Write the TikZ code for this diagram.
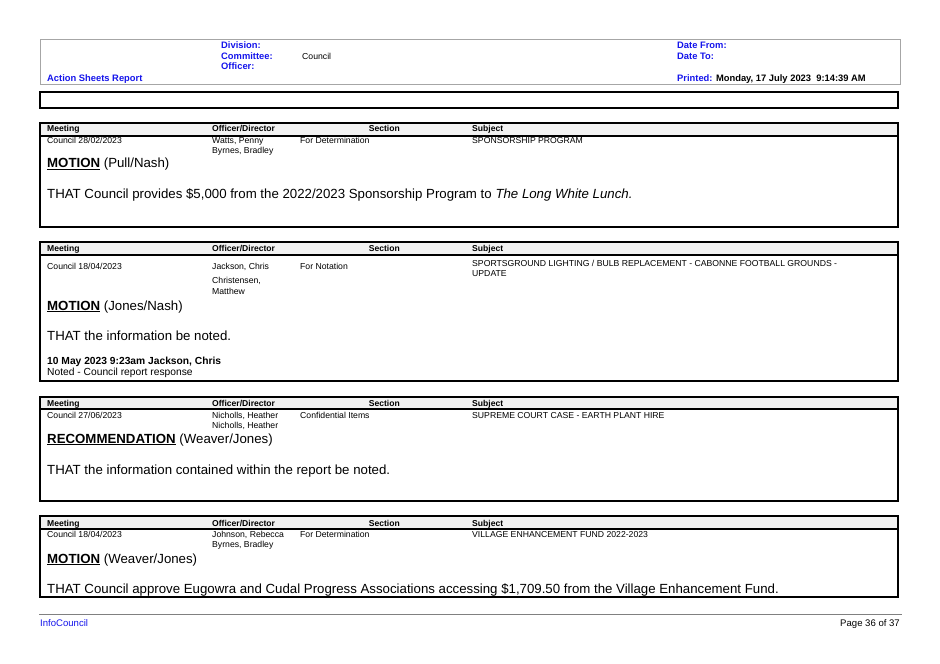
\documentclass[tikz,border=0pt]{standalone}
\usepackage{fontspec}
\setmainfont{Liberation Sans}
\definecolor{hblue}{RGB}{20,20,235}
\definecolor{hgray}{RGB}{242,242,242}
\tikzset{
 t/.style={anchor=base west,inner sep=0pt,font=\fontsize{8.7}{9}\selectfont},
 th/.style={anchor=base west,inner sep=0pt,font=\fontsize{8.6}{9}\selectfont\bfseries},
 tr/.style={anchor=base east,inner sep=0pt,font=\fontsize{8.6}{9}\selectfont\bfseries},
 big/.style={anchor=base west,inner sep=0pt,font=\fontsize{13.3}{14}\selectfont},
 hb/.style={anchor=base west,inner sep=0pt,font=\fontsize{9.4}{10}\selectfont\bfseries,text=hblue},
 blk/.style={draw=black,line width=1.3pt}
}
\newcommand{\blockhead}[3]{%
 \fill[hgray] (40,#1) rectangle (898,#2);
 \draw[line width=1.3pt] (40,#2) -- (898,#2);
 \draw[blk] (40,#1) rectangle (898,#3);
}
\begin{document}
\begin{tikzpicture}[x=1bp,y=-1bp]
\useasboundingbox (0,0) rectangle (940,664);
% page header
\draw[draw=gray!70,line width=0.8pt] (40,39) rectangle (900,84);
\node[hb] (div) at (221,49) {Division:};
\node[hb] (com) at (221,60) {Committee:};
\node[t] (cou) at (302,60) {Council};
\node[hb] (off) at (221,70) {Officer:};
\node[hb] (asr) at (47,82) {Action Sheets Report};
\node[hb] (df) at (677,49) {Date From:};
\node[hb] (dt) at (677,60) {Date To:};
\node[hb] (pr) at (677,82) {Printed: \textcolor{black}{Monday, 17 July 2023\ \ 9:14:39 AM}};
\draw[line width=1.2pt] (40,92) rectangle (898,108);
% block 1
\blockhead{123}{136}{227}
\node[th] (m1) at (47,132) {Meeting};
\node[th] (o1) at (212,132) {Officer/Director};
\node[tr] (s1) at (400,132) {Section};
\node[th] (u1) at (472,132) {Subject};
\node[t] (a1) at (47,144) {Council 28/02/2023};
\node[t] (b1) at (212,144) {Watts, Penny};
\node[t] (b1b) at (212,154) {Byrnes, Bradley};
\node[t] (c1) at (300,144) {For Determination};
\node[t] (d1) at (472,144) {SPONSORSHIP PROGRAM};
\node[big] (e1) at (47,168) {\textbf{\underline{MOTION}} (Pull/Nash)};
\node[big] (f1) at (47,198) {THAT Council provides \$5,000 from the 2022/2023 Sponsorship Program to \textit{The Long White Lunch.}};
% block 2
\blockhead{242}{255}{381}
\node[th] (m2) at (47,251) {Meeting};
\node[th] (o2) at (212,251) {Officer/Director};
\node[tr] (s2) at (400,251) {Section};
\node[th] (u2) at (472,251) {Subject};
\node[t] (a2) at (47,269) {Council 18/04/2023};
\node[t] (b2) at (212,269) {Jackson, Chris};
\node[t] (b2b) at (212,283) {Christensen,};
\node[t] (b2c) at (212,294) {Matthew};
\node[t] (c2) at (300,269) {For Notation};
\node[t] (d2) at (472,266) {SPORTSGROUND LIGHTING / BULB REPLACEMENT - CABONNE FOOTBALL GROUNDS -};
\node[t] (d2b) at (472,276) {UPDATE};
\node[big] (e2) at (47,310) {\textbf{\underline{MOTION}} (Jones/Nash)};
\node[big] (f2) at (47,340) {THAT the information be noted.};
\node[anchor=base west,inner sep=0pt,font=\fontsize{10.3}{11}\selectfont\bfseries] (g2) at (47,364) {10 May 2023 9:23am Jackson, Chris};
\node[anchor=base west,inner sep=0pt,font=\fontsize{10.3}{11}\selectfont] (h2) at (47,375) {Noted - Council report response};
% block 3
\blockhead{397}{409}{501}
\node[th] (m3) at (47,406) {Meeting};
\node[th] (o3) at (212,406) {Officer/Director};
\node[tr] (s3) at (400,406) {Section};
\node[th] (u3) at (472,406) {Subject};
\node[t] (a3) at (47,418) {Council 27/06/2023};
\node[t] (b3) at (212,418) {Nicholls, Heather};
\node[t] (b3b) at (212,428) {Nicholls, Heather};
\node[t] (c3) at (300,418) {Confidential Items};
\node[t] (d3) at (472,418) {SUPREME COURT CASE - EARTH PLANT HIRE};
\node[big] (e3) at (47,443) {\textbf{\underline{RECOMMENDATION}} (Weaver/Jones)};
\node[big] (f3) at (47,474) {THAT the information contained within the report be noted.};
% block 4
\blockhead{516}{529}{597}
\node[th] (m4) at (47,526) {Meeting};
\node[th] (o4) at (212,526) {Officer/Director};
\node[tr] (s4) at (400,526) {Section};
\node[th] (u4) at (472,526) {Subject};
\node[t] (a4) at (47,537) {Council 18/04/2023};
\node[t] (b4) at (212,537) {Johnson, Rebecca};
\node[t] (b4b) at (212,547) {Byrnes, Bradley};
\node[t] (c4) at (300,537) {For Determination};
\node[t] (d4) at (472,537) {VILLAGE ENHANCEMENT FUND 2022-2023};
\node[big] (e4) at (47,563) {\textbf{\underline{MOTION}} (Weaver/Jones)};
\node[big] (f4) at (47,593) {THAT Council approve Eugowra and Cudal Progress Associations accessing \$1,709.50 from the Village Enhancement Fund.};
% footer
\draw[gray,line width=0.6pt] (39,614) -- (902,614);
\node[anchor=base west,inner sep=0pt,font=\fontsize{9.6}{10}\selectfont,text=hblue] (ic) at (40,626) {InfoCouncil};
\node[anchor=base east,inner sep=0pt,font=\fontsize{9.6}{10}\selectfont] (pg) at (900,626) {Page 36 of 37};
\end{tikzpicture}
\end{document}
